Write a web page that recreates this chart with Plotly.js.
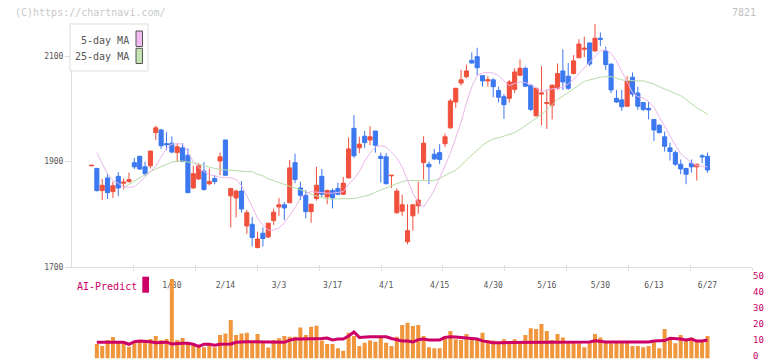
<!DOCTYPE html>
<html><head><meta charset="utf-8">
<script src="https://cdn.plot.ly/plotly-3.0.1.min.js"></script>
<style>html,body{margin:0;padding:0;background:#fff;} #chart{width:772px;height:361px;}</style>
</head><body><div id="chart"></div>
<script>
const dates = ["1/8","1/9","1/10","1/14","1/15","1/16","1/17","1/20","1/21","1/22","1/23","1/24","1/27","1/28","1/29","1/30","1/31",
"2/3","2/4","2/5","2/6","2/7","2/10","2/12","2/13","2/14","2/17","2/18","2/19","2/20","2/21","2/25","2/26","2/27","2/28",
"3/3","3/4","3/5","3/6","3/7","3/10","3/11","3/12","3/13","3/14","3/17","3/18","3/19","3/21","3/24","3/25","3/26","3/27","3/28","3/31",
"4/1","4/2","4/3","4/4","4/7","4/8","4/9","4/10","4/11","4/14","4/15","4/16","4/17","4/18","4/21","4/22","4/23","4/24","4/25","4/28","4/30",
"5/1","5/2","5/7","5/8","5/9","5/12","5/13","5/14","5/15","5/16","5/19","5/20","5/21","5/22","5/23","5/26","5/27","5/28","5/29","5/30",
"6/2","6/3","6/4","6/5","6/6","6/9","6/10","6/11","6/12","6/13","6/16","6/17","6/18","6/19","6/20","6/23","6/24","6/25","6/26","6/27"];
const tickLabels = ["1/30","2/14","3/3","3/17","4/1","4/15","4/30","5/16","5/30","6/13","6/27"];

const open = [1892,1887,1845,1869,1843,1872,1859,1862,1898,1910,1890,1892,1955,1960,1934,1935,1917,1926,1912,1850,1867,1882,1858,1868,1901,1941,1835,1831,1844,1778,1781,1737,1764,1757,1788,1814,1818,1822,1898,1850,1836,1805,1830,1872,1833,1845,1849,1838,1869,1963,1926,1948,1941,1958,1910,1909,1873,1803,1806,1748,1797,1816,1898,1895,1914,1917,1934,1964,2013,2049,2061,2092,2099,2063,2053,2055,2035,2023,2020,2037,2064,2077,2045,1987,2028,2010,2007,2039,2072,2062,2067,2097,2113,2125,2110,2134,2110,2085,2020,2017,2005,2060,2030,2012,2001,1980,1969,1947,1926,1917,1895,1887,1897,1890,1911,1910];
const high = [1893,1888,1867,1878,1862,1880,1868,1879,1907,1911,1900,1920,1968,1962,1956,1948,1934,1935,1925,1892,1897,1899,1887,1874,1917,1941,1850,1847,1863,1808,1795,1767,1775,1784,1811,1831,1823,1903,1915,1862,1846,1820,1890,1886,1847,1849,1860,1871,1946,1988,1947,1958,1967,1958,1917,1916,1874,1849,1837,1819,1819,1862,1948,1900,1924,1933,1953,2019,2040,2074,2084,2107,2116,2063,2062,2058,2042,2028,2055,2077,2094,2080,2045,2040,2081,2037,2046,2086,2113,2087,2102,2132,2137,2126,2161,2145,2118,2085,2036,2036,2062,2069,2042,2013,2013,1980,1971,1957,1936,1921,1904,1888,1904,1896,1914,1917];
const low = [1892,1843,1827,1829,1831,1835,1847,1860,1886,1884,1873,1887,1941,1924,1922,1916,1899,1899,1840,1848,1865,1845,1855,1857,1874,1873,1775,1794,1803,1763,1739,1735,1739,1755,1780,1797,1789,1821,1859,1827,1792,1784,1826,1832,1819,1811,1836,1837,1869,1907,1916,1926,1931,1917,1860,1857,1850,1801,1797,1743,1769,1801,1866,1857,1903,1895,1928,1962,2002,2044,2058,2086,2064,2042,2042,2022,2012,1981,2012,2030,2062,2042,1996,1985,1969,1962,1980,2036,2036,2036,2066,2096,2098,2081,2108,2119,2074,2030,2011,1996,2005,2023,1998,1996,1980,1939,1953,1919,1902,1892,1876,1857,1879,1864,1897,1879];
const close = [1893,1845,1855,1841,1854,1850,1861,1866,1890,1886,1877,1920,1964,1930,1932,1918,1928,1900,1841,1877,1892,1847,1862,1862,1909,1874,1849,1844,1810,1803,1756,1753,1754,1783,1804,1818,1812,1888,1866,1836,1805,1819,1855,1838,1845,1831,1838,1859,1924,1911,1933,1936,1947,1931,1906,1858,1874,1844,1818,1769,1818,1827,1935,1890,1905,1904,1947,2015,2039,2055,2072,2087,2078,2053,2055,2042,2022,2008,2051,2070,2077,2043,1999,2039,2030,2012,2045,2067,2051,2039,2091,2123,2115,2085,2134,2132,2084,2036,2013,2004,2053,2028,2005,1999,1998,1960,1955,1929,1919,1895,1886,1876,1890,1895,1909,1884];

const ma5 = [null,1917,1895,1876,1864,1859,1851,1851,1852,1861,1871,1881,1891,1909,1925,1933,1934,1933,1918,1900,1889,1881,1875,1873,1870,1870,1869,1866,1854,1835,1814,1793,1779,1770,1770,1774,1784,1797,1812,1831,1839,1843,1842,1840,1840,1840,1841,1843,1857,1867,1881,1901,1916,1928,1930,1928,1918,1907,1890,1865,1840,1822,1814,1829,1846,1869,1891,1916,1945,1975,2011,2042,2063,2068,2069,2068,2063,2054,2044,2048,2051,2050,2046,2040,2033,2035,2038,2039,2042,2047,2056,2067,2078,2089,2098,2110,2112,2105,2091,2071,2050,2031,2023,2021,2014,2003,1985,1966,1947,1931,1915,1906,1898,1893,1892,1890];
const ma25 = [null,null,null,null,null,null,1851,1857,1864,1869,1875,1881,1886,1890,1895,1899,1901,1901,1899,1898,1896,1892,1889,1887,1885,1884,1883,1883,1882,1881,1881,1876,1873,1867,1864,1860,1856,1853,1850,1847,1843,1838,1835,1832,1829,1829,1829,1829,1830,1830,1832,1834,1837,1842,1846,1850,1854,1858,1862,1864,1864,1864,1864,1864,1864,1868,1874,1879,1884,1892,1903,1912,1922,1931,1938,1943,1945,1948,1951,1955,1961,1968,1975,1982,1989,1998,2008,2018,2024,2031,2039,2046,2052,2055,2058,2060,2061,2061,2058,2055,2054,2053,2053,2053,2050,2047,2042,2038,2034,2030,2025,2018,2010,2002,1996,1990];

const volume = [null,9.1,7.8,11.6,13.4,10.9,9.5,7.4,9.5,10.5,11.2,12.2,14.1,11.6,12.2,49.7,11.6,12.8,10.1,8.9,7.8,7.0,8.9,7.0,14.7,15.7,24.1,14.7,15.7,16.1,10.9,15.3,10.9,6.8,11.6,12.7,14.1,13.6,13.6,19.3,14.7,19.9,20.5,11.2,9.1,9.1,6.4,4.9,16.1,14.1,7.8,9.9,11.2,10.5,13.2,9.9,7.8,13.6,20.9,22.4,20.3,20.9,14.1,7.0,6.4,6.4,14.1,17.2,12.0,11.6,15.3,13.2,11.6,16.1,11.6,11.2,10.5,12.0,9.1,12.0,9.5,14.7,18.9,18.4,21.6,17.2,11.6,15.3,13.2,10.5,10.5,9.5,7.0,9.5,15.3,13.2,10.5,9.5,10.5,10.5,10.5,7.8,7.8,7.0,7.8,10.5,6.4,18.4,11.6,9.5,14.7,11.6,13.2,10.5,11.6,14.1];
const aiPredict = [null,10.1,10.1,10.1,10.1,10.1,10.1,8.9,10.5,10.9,10.9,10.5,9.9,9.9,10.2,9.1,9.5,9.5,9.5,8.9,7.6,8.9,8.9,8.3,8.9,9.1,9.1,10.1,10.5,10.5,10.5,10.5,10.5,10.5,10.5,10.5,10.1,11.5,12.2,12.2,12.2,12.2,12.2,12.5,12.8,11.6,12.2,12.2,14.1,16.6,13.2,13.6,13.6,13.6,13.6,13.6,12.5,11.5,10.9,10.9,10.3,11.8,12.2,11.6,11.6,11.6,13.2,13.6,13.5,13.2,13.2,12.9,12.2,11.0,10.3,9.9,9.9,9.9,9.9,10.3,10.3,9.9,9.9,9.9,9.9,9.9,9.9,9.9,9.9,10.3,10.3,10.3,10.3,10.3,11.1,10.5,10.3,10.3,10.3,10.3,10.3,10.3,10.3,10.3,10.3,10.9,10.9,11.2,12.6,12.6,12.2,11.6,12.2,10.9,10.9,11.6];

const idx = dates.map((d, i) => i);
const tickVals = tickLabels.map(t => dates.indexOf(t));
const divisions = [1,2,3,4,5,6,7,8,9,10,11];

const RED = '#f0503c', BLUE = '#3c78f0', MAG = '#cc0066';
const FONT = 'DejaVu Sans Mono';
const H = 361, W0 = 72, PW = 680;
const py = p => 1 - p / H;
const pxf = p => (p - W0) / PW;

const traces = [
  {type:'scatter', mode:'lines', x:idx, y:ma25, line:{color:'#b6dca6', width:1}, hoverinfo:'skip', connectgaps:false},
  {type:'scatter', mode:'lines', x:idx, y:ma5, line:{color:'#ecb6ee', width:1}, hoverinfo:'skip', connectgaps:false},
  {type:'candlestick', x:idx, open:open, high:high, low:low, close:close,
   increasing:{line:{color:RED, width:1}, fillcolor:RED},
   decreasing:{line:{color:BLUE, width:1}, fillcolor:BLUE},
   whiskerwidth:0, hoverinfo:'none'},
  {type:'bar', x:idx, y:volume, xaxis:'x', yaxis:'y2', marker:{color:'#f0963c', line:{width:0}}, hoverinfo:'none'},
  {type:'scatter', mode:'lines', x:idx, y:aiPredict, xaxis:'x', yaxis:'y2', line:{color:MAG, width:3}, hoverinfo:'skip'},
  {type:'scatter', mode:'lines', x:[], y:[], xaxis:'x2', yaxis:'y', hoverinfo:'skip'},
  {type:'scatter', mode:'lines', x:[], y:[], xaxis:'x3', yaxis:'y', hoverinfo:'skip'}
];

const layout = {
  width:772, height:361,
  margin:{l:72, r:20, t:0, b:0, pad:0},
  paper_bgcolor:'#ffffff', plot_bgcolor:'rgba(0,0,0,0)',
  showlegend:false,
  font:{family:FONT, size:8, color:'#555555'},
  boxgap:0.15, boxgroupgap:0.1,
  bargap:0.25,
  xaxis:{domain:[0,1], range:[-3.64,123.31], anchor:'y', tickmode:'array', tickvals:tickVals, ticktext:tickLabels,
         ticks:'', showline:true, linecolor:'#dddddd', linewidth:1, showgrid:false, zeroline:false,
         rangeslider:{visible:false}, ticklabelstandoff:10, tickfont:{family:FONT, size:8, color:'#555555'}, fixedrange:true},
  xaxis2:{overlaying:'x', anchor:'y', range:[0,11], tickmode:'array', tickvals:divisions,
          ticks:'outside', ticklen:3, tickcolor:'#dddddd', tickwidth:1, showticklabels:false, showgrid:false, zeroline:false, showline:false},
  xaxis3:{overlaying:'x', anchor:'y', range:[0,11], tickmode:'array', tickvals:divisions,
          ticks:'inside', ticklen:2, tickcolor:'#dddddd', tickwidth:1, showticklabels:false, showgrid:false, zeroline:false, showline:false},
  yaxis:{domain:[py(267), py(24)], range:[1700,2161], tickmode:'array', tickvals:[1700,1900,2100],
         ticks:'outside', ticklen:6, tickcolor:'#dddddd', showline:true, linecolor:'#dddddd', linewidth:1,
         showgrid:false, zeroline:false, tickfont:{family:FONT, size:8, color:'#555555'}, fixedrange:true, ticklabeloverflow:'allow'},
  yaxis2:{domain:[py(358.5), py(278.5)], range:[0,50], anchor:'x', side:'right', tickmode:'array', tickvals:[0,10,20,30,40,50],
          ticks:'', showline:false, showgrid:false, zeroline:false, tickfont:{family:FONT, size:9, color:MAG}, fixedrange:true,
          ticklabeloverflow:'allow', ticklabelshift:-3},
  shapes:[
    {type:'rect', xref:'paper', yref:'paper', x0:pxf(70), x1:pxf(148), y0:py(71), y1:py(24), line:{color:'#dddddd', width:1}, fillcolor:'#ffffff', layer:'above'},
    {type:'rect', xref:'paper', yref:'paper', x0:pxf(136), x1:pxf(142.5), y0:py(46.5), y1:py(31), line:{color:'#555555', width:1}, fillcolor:'#f0bcf0', layer:'above'},
    {type:'rect', xref:'paper', yref:'paper', x0:pxf(136), x1:pxf(142.5), y0:py(63.5), y1:py(48.3), line:{color:'#555555', width:1}, fillcolor:'#c4e4b4', layer:'above'},
    {type:'rect', xref:'paper', yref:'paper', x0:pxf(142.3), x1:pxf(149), y0:py(292.7), y1:py(276.7), line:{width:0}, fillcolor:MAG, layer:'above'}
  ],
  annotations:[
    {xref:'paper', yref:'paper', x:pxf(13), y:py(12.5), xanchor:'left', yanchor:'middle', text:'(C)https://chartnavi.com/', showarrow:false, font:{family:FONT, size:10, color:'#c8c8c8'}},
    {xref:'paper', yref:'paper', x:pxf(758), y:py(12), xanchor:'right', yanchor:'middle', text:'7821', showarrow:false, font:{family:FONT, size:10, color:'#c0c0c0'}},
    {xref:'paper', yref:'paper', x:pxf(131), y:py(40), xanchor:'right', yanchor:'middle', text:'5-day MA', showarrow:false, font:{family:FONT, size:10, color:'#555555'}},
    {xref:'paper', yref:'paper', x:pxf(131), y:py(56.7), xanchor:'right', yanchor:'middle', text:'25-day MA', showarrow:false, font:{family:FONT, size:10, color:'#555555'}},
    {xref:'paper', yref:'paper', x:pxf(75), y:py(286.3), xanchor:'left', yanchor:'middle', text:'AI-Predict', showarrow:false, font:{family:FONT, size:10, color:MAG}}
  ]
};

Plotly.newPlot('chart', traces, layout, {staticPlot:true, displayModeBar:false});
</script>
</body></html>
